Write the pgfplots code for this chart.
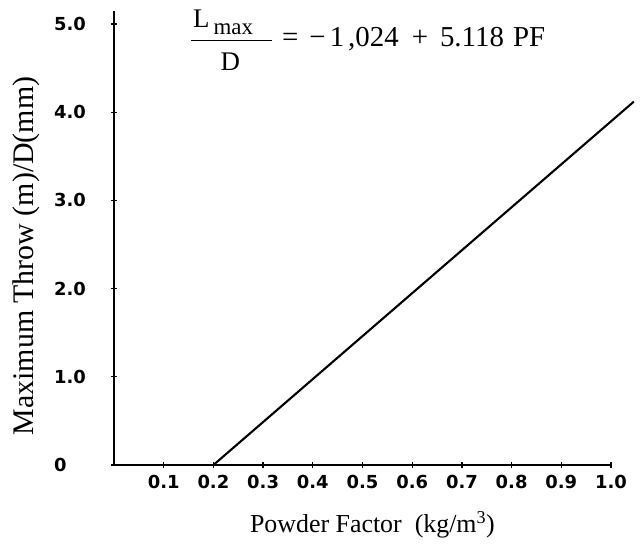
\documentclass[border=0pt]{standalone}
\usepackage{fontspec}
\setmainfont{Liberation Serif}
\newfontfamily\tickfont{DejaVu Sans}
\usepackage{pgfplots}
\pgfplotsset{compat=1.18}
\usetikzlibrary{calc}
\begin{document}
\begin{tikzpicture}
\begin{axis}[
  x=497bp, y=88.2bp,
  xmin=0, xmax=1.0, ymin=0, ymax=5.15,
  axis lines=left,
  axis line style={-, line width=1.3bp, black},
  clip=false,
  xtick={0.1,0.2,0.3,0.4,0.5,0.6,0.7,0.8,0.9,1.0},
  xticklabels={0.1,0.2,0.3,0.4,0.5,0.6,0.7,0.8,0.9,1.0},
  ytick={0,1,2,3,4,5},
  yticklabels={0,1.0,2.0,3.0,4.0,5.0},
  tick label style={font=\tickfont\bfseries\fontsize{18}{18}\selectfont},
  tick align=center, major tick length=6bp,
  tick style={line width=1.3bp, black},
  xticklabel style={yshift=-4bp},
  yticklabel style={anchor=west, inner sep=0pt, xshift=-57bp},
  xlabel={Powder Factor\ \ (kg/m\textsuperscript{3})},
  xlabel style={at={(axis cs:0.52,-0.76)}, anchor=base, font=\fontsize{26}{30}\selectfont},
  ylabel={Maximum Throw (m)/D(mm)},
  ylabel style={at={(axis cs:-0.177,2.37)}, anchor=center, font=\fontsize{30}{32}\selectfont},
]
\addplot[line width=2.1bp, black] coordinates {(0.2,0) (1.046,4.12)};
\coordinate (O) at (axis cs:0,0);
\node[anchor=base west, inner sep=0pt, font=\fontsize{27}{27}\selectfont] at (axis cs:0.159,4.955) {L\hspace{4bp}\raisebox{-7bp}{\fontsize{23}{23}\selectfont max}};
\node[inner sep=0pt] at (axis cs:0.237,4.81) {\rule{81bp}{1.3bp}};
\node[anchor=base, inner sep=0pt, font=\fontsize{27}{27}\selectfont] at (axis cs:0.234,4.477) {D};
\node[anchor=base west, inner sep=0pt, font=\fontsize{29}{29}\selectfont] at (axis cs:0.338,4.74) {=\hspace{11bp}−\hspace{4bp}1\hspace{4bp},024\hspace{13bp}+\hspace{12bp}5.118\hspace{9bp}PF};
\end{axis}
\path[use as bounding box] ($(O)+(-114bp,-80bp)$) rectangle ($(O)+(529bp,465bp)$);
\end{tikzpicture}
\end{document}
